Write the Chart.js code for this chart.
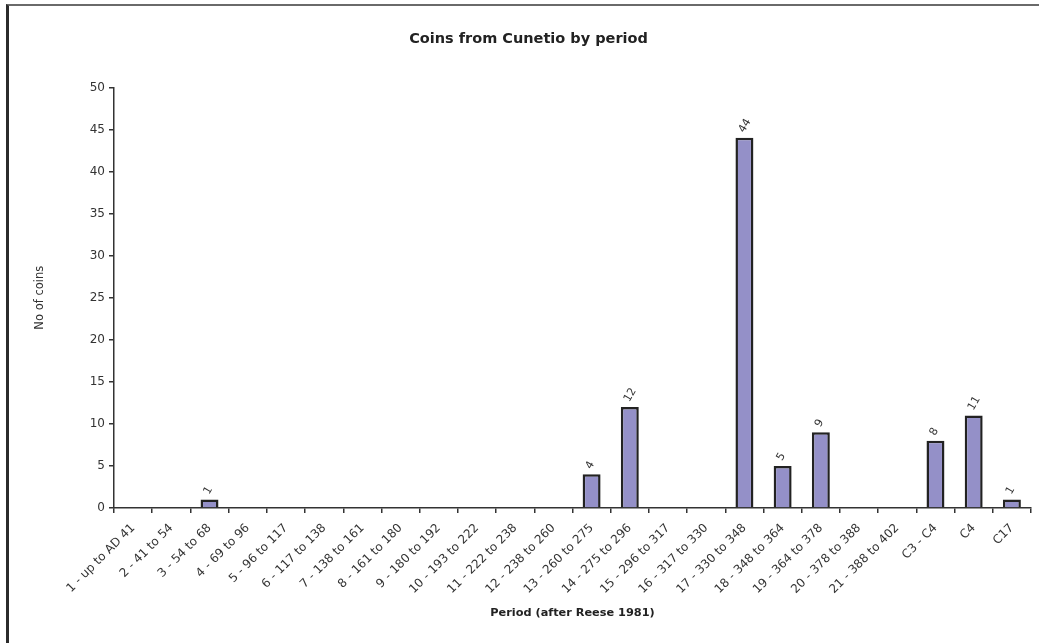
<!DOCTYPE html>
<html>
<head>
<meta charset="utf-8">
<title>Coins from Cunetio by period</title>
<script src="https://cdn.jsdelivr.net/npm/chart.js@4.4.1/dist/chart.umd.min.js"></script>
<style>
    html, body { margin: 0; padding: 0; background: #fff; overflow: hidden; }
    #frame {
        position: absolute;
        left: 6px; top: 4px;
        width: 1040px; height: 650px;
        border-left: 3px solid #2b2b2b;
        border-top: 2px solid #6a6a6a;
        pointer-events: none;
    }
    #chart { position: absolute; left: 0; top: 0; }
</style>
</head>
<body>
<canvas id="chart" width="1039" height="643"></canvas>
<div id="frame"></div>
<script>
const periods = [
    '1 - up to AD 41', '2 - 41 to 54', '3 - 54 to 68', '4 - 69 to 96',
    '5 - 96 to 117', '6 - 117 to 138', '7 - 138 to 161', '8 - 161 to 180',
    '9 - 180 to 192', '10 - 193 to 222', '11 - 222 to 238', '12 - 238 to 260',
    '13 - 260 to 275', '14 - 275 to 296', '15 - 296 to 317', '16 - 317 to 330',
    '17 - 330 to 348', '18 - 348 to 364', '19 - 364 to 378', '20 - 378 to 388',
    '21 - 388 to 402', 'C3 - C4', 'C4', 'C17'
];
const coinCounts = [0, 0, 1, 0, 0, 0, 0, 0, 0, 0, 0, 0, 4, 12, 0, 0, 44, 5, 9, 0, 0, 8, 11, 1];
const yMin = 0;
const yMax = 50;
const yStep = 5;

const FONT = "'DejaVu Sans', Verdana, sans-serif";
const TEXT = '#333';

// Rotated value labels above each non-zero bar
const barLabels = {
    id: 'barLabels',
    afterDatasetsDraw(chart) {
        const ctx = chart.ctx;
        const meta = chart.getDatasetMeta(0);
        ctx.save();
        ctx.fillStyle = TEXT;
        ctx.font = '11px ' + FONT;
        ctx.textAlign = 'left';
        ctx.textBaseline = 'middle';
        meta.data.forEach((bar, i) => {
            const v = coinCounts[i];
            if (!v) return;
            ctx.save();
            ctx.translate(bar.x - 3, bar.y - 6);
            ctx.rotate(-Math.PI / 3);
            ctx.fillText(String(v), 0, 0);
            ctx.restore();
        });
        ctx.restore();
    }
};

new Chart(document.getElementById('chart'), {
    type: 'bar',
    data: {
        labels: periods,
        datasets: [{
            label: 'No of coins',
            data: coinCounts,
            backgroundColor: '#9490c8',
            borderColor: '#222',
            borderWidth: 2.5,
            borderSkipped: 'bottom',
            categoryPercentage: 1,
            barPercentage: 0.47
        }]
    },
    options: {
        responsive: false,
        animation: false,
        devicePixelRatio: 1,
        layout: { padding: { left: 26, right: 8, top: 0, bottom: 0 } },
        plugins: {
            legend: { display: false },
            tooltip: { enabled: false },
            title: {
                display: true,
                text: 'Coins from Cunetio by period',
                color: '#222',
                font: { family: FONT, size: 14.5, weight: 'bold' },
                padding: { top: 31, bottom: 39 }
            }
        },
        scales: {
            x: {
                offset: true,
                grid: {
                    offset: true,
                    drawOnChartArea: false,
                    drawTicks: true,
                    tickLength: 5,
                    color: '#333',
                    lineWidth: 1.5
                },
                border: { color: '#333', width: 1.5 },
                ticks: {
                    color: TEXT,
                    font: { family: FONT, size: 12 },
                    minRotation: 45,
                    maxRotation: 45,
                    autoSkip: false,
                    padding: 8
                },
                title: {
                    display: true,
                    text: 'Period (after Reese 1981)',
                    color: '#222',
                    font: { family: FONT, size: 11.3, weight: 'bold' },
                    padding: { top: 0, bottom: 23 }
                },
                afterFit(scale) { scale.height = 135; }
            },
            y: {
                min: yMin,
                max: yMax,
                grid: {
                    drawOnChartArea: false,
                    drawTicks: true,
                    tickLength: 5,
                    color: '#333',
                    lineWidth: 1.5
                },
                border: { color: '#333', width: 1.5 },
                ticks: {
                    stepSize: yStep,
                    color: TEXT,
                    font: { family: FONT, size: 12 },
                    padding: 4
                },
                title: {
                    display: true,
                    text: 'No of coins',
                    color: '#333',
                    font: { family: FONT, size: 11.5 },
                    padding: { top: 7, bottom: 0 }
                },
                afterFit(scale) { scale.width = 88; }
            }
        }
    },
    plugins: [barLabels]
});
</script>
</body>
</html>
